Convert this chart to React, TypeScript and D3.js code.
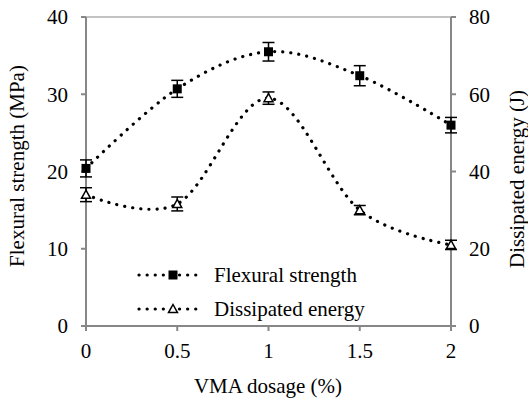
import React from "react";
import * as d3 from "d3";

const dosage = [0, 0.5, 1, 1.5, 2];
const flexural = [20.4, 30.7, 35.5, 32.4, 26.0];
const flexuralErr = [1.1, 1.1, 1.2, 1.3, 1.0];
const energy = [34.0, 31.6, 59.0, 30.0, 21.0];
const energyErr = [1.8, 1.8, 1.6, 1.2, 1.2];
const xTicks = [0, 0.5, 1, 1.5, 2];
const yLeftTicks = [0, 10, 20, 30, 40];
const yRightTicks = [0, 20, 40, 60, 80];
const seriesNames = ["Flexural strength", "Dissipated energy"];

const W = 528, H = 402;
const L = 86, R = 451, T = 17, B = 326;
const axisColor = "#878787";
const font = "Liberation Serif, Times New Roman, serif";
const FS = 21;

export default function App() {
  const x = d3.scaleLinear().domain([0, 2]).range([L, R]);
  const yL = d3.scaleLinear().domain([0, 40]).range([B, T]);
  const yR = d3.scaleLinear().domain([0, 80]).range([B, T]);
  const line = (ys: number[], ysc: d3.ScaleLinear<number, number>) =>
    d3.line<number>().x((_, i) => x(dosage[i])).y((d) => ysc(d)).curve(d3.curveCatmullRom.alpha(0))(ys) || "";
  const dot = { fill: "none", stroke: "#000", strokeWidth: 3.2, strokeLinecap: "round" as const, strokeDasharray: "0.1 8" };
  const tri = (cx: number, cy: number, s = 4.5) =>
    `M${cx},${cy - s}L${cx + s},${cy + s * 0.8}L${cx - s},${cy + s * 0.8}Z`;
  const errBar = (cx: number, y1: number, y2: number, k: string) => (
    <g key={k} stroke="#000" strokeWidth={1.5}>
      <line x1={cx} x2={cx} y1={y1} y2={y2} />
      <line x1={cx - 6} x2={cx + 6} y1={y1} y2={y1} />
      <line x1={cx - 6} x2={cx + 6} y1={y2} y2={y2} />
    </g>
  );
  return (
    <svg width={W} height={H} style={{ position: "absolute", left: 0, top: 0, background: "#fff" }} fontFamily={font}>
      <rect x={0} y={0} width={W} height={H} fill="#fff" />
      {/* frame */}
      <line x1={L} x2={R} y1={T} y2={T} stroke={axisColor} strokeWidth={1.2} />
      <line x1={L} x2={L} y1={T} y2={B} stroke={axisColor} strokeWidth={2} />
      <line x1={R} x2={R} y1={T} y2={B} stroke={axisColor} strokeWidth={2} />
      <line x1={L} x2={R} y1={B} y2={B} stroke={axisColor} strokeWidth={2} />
      {yLeftTicks.map((t) => (
        <g key={"l" + t}>
          <line x1={L - 5} x2={L} y1={yL(t)} y2={yL(t)} stroke={axisColor} strokeWidth={2} />
          <text x={68} y={yL(t)} dy="0.35em" textAnchor="end" fontSize={FS}>{t}</text>
        </g>
      ))}
      {yRightTicks.map((t) => (
        <g key={"r" + t}>
          <line x1={R} x2={R + 5} y1={yR(t)} y2={yR(t)} stroke={axisColor} strokeWidth={2} />
          <text x={469} y={yR(t)} dy="0.35em" textAnchor="start" fontSize={FS}>{t}</text>
        </g>
      ))}
      {xTicks.map((t) => (
        <g key={"x" + t}>
          <line x1={x(t)} x2={x(t)} y1={B} y2={B + 5} stroke={axisColor} strokeWidth={2} />
          <text x={x(t)} y={358} textAnchor="middle" fontSize={FS}>{t}</text>
        </g>
      ))}
      <text x={268} y={393} textAnchor="middle" fontSize={FS}>VMA dosage (%)</text>
      <text transform="translate(24,166) rotate(-90)" textAnchor="middle" fontSize={FS}>Flexural strength (MPa)</text>
      <text transform="translate(524,179) rotate(-90)" textAnchor="middle" fontSize={FS}>Dissipated energy (J)</text>

      {/* series lines */}
      <path d={line(flexural, yL)} {...dot} />
      <path d={line(energy, yR)} {...dot} />

      {/* error bars */}
      {flexural.map((v, i) => errBar(x(dosage[i]), yL(v + flexuralErr[i]), yL(v - flexuralErr[i]), "fe" + i))}
      {energy.map((v, i) => errBar(x(dosage[i]), yR(v + energyErr[i]), yR(v - energyErr[i]), "ee" + i))}

      {/* markers */}
      {flexural.map((v, i) => (
        <rect key={"fm" + i} x={x(dosage[i]) - 4.5} y={yL(v) - 4.5} width={9} height={9} fill="#000" />
      ))}
      {energy.map((v, i) => (
        <path key={"em" + i} d={tri(x(dosage[i]), yR(v))} fill="#fff" stroke="#000" strokeWidth={1.5} />
      ))}

      {/* legend */}
      <g>
        <line x1={139} x2={202} y1={275} y2={275} {...dot} />
        <rect x={168.5} y={270.5} width={9} height={9} fill="#000" />
        <text x={214} y={275} dy="0.35em" fontSize={FS}>{seriesNames[0]}</text>
        <line x1={139} x2={202} y1={309} y2={309} {...dot} />
        <path d={tri(173, 309)} fill="#fff" stroke="#000" strokeWidth={1.5} />
        <text x={214} y={309} dy="0.35em" fontSize={FS}>{seriesNames[1]}</text>
      </g>
    </svg>
  );
}
